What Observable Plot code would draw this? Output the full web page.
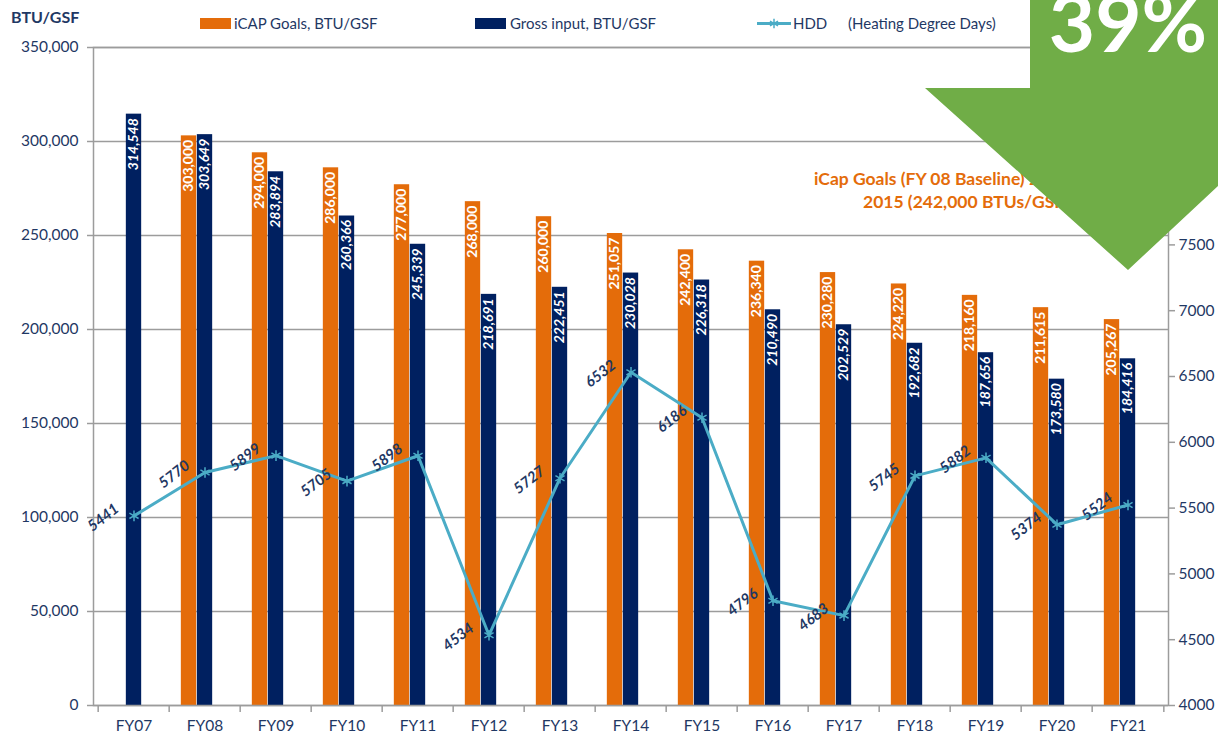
<!DOCTYPE html>
<html>
<head>
<meta charset="utf-8">
<script src="https://cdn.jsdelivr.net/npm/d3@7"></script>
<script src="https://cdn.jsdelivr.net/npm/@observablehq/plot@0.6"></script>
<style>
  html, body { margin: 0; padding: 0; background: #fff; }
  #wrap { position: relative; width: 1218px; height: 737px; overflow: hidden; font-family: Lato, sans-serif; }
  #overlay { position: absolute; left: 0; top: 0; pointer-events: none; }
</style>
</head>
<body>
<div id="wrap"></div>
<script>
// ---- data ----
const fiscalYears = ["FY07","FY08","FY09","FY10","FY11","FY12","FY13","FY14","FY15","FY16","FY17","FY18","FY19","FY20","FY21"];
const icapGoals = [null, 303000, 294000, 286000, 277000, 268000, 260000, 251057, 242400, 236340, 230280, 224220, 218160, 211615, 205267];
const grossInput = [314548, 303649, 283894, 260366, 245339, 218691, 222451, 230028, 226318, 210490, 202529, 192682, 187656, 173580, 184416];
const hdd = [5441, 5770, 5899, 5705, 5898, 4534, 5727, 6532, 6186, 4796, 4683, 5745, 5882, 5374, 5524];
const leftTicks = [0, 50000, 100000, 150000, 200000, 250000, 300000, 350000];
const rightTicks = [4000, 4500, 5000, 5500, 6000, 6500, 7000, 7500];
const legendLabels = ["iCAP Goals, BTU/GSF", "Gross input, BTU/GSF", "HDD", "(Heating Degree Days)"];
const yAxisTitle = "BTU/GSF";
const noteLines = ["iCap Goals (FY 08 Baseline) 20% reduction by", "2015 (242,000 BTUs/GSF)"];
const badgeText = "39%";

// ---- style ----
const ORANGE = "#E46C0A", NAVY = "#002060", TEAL = "#4BACC6", GREEN = "#70AD47", TXT = "#1F3864", GRID = "#9c9c9c";
const W = 1218, H = 737, ML = 93, MR = 50, MT = 47, MB = 32;
const bw = (W - ML - MR) / fiscalYears.length;
const barW = 16;
const inset = (bw - barW) / 2;

const hMin = 4000, hMax = 9000, yMax = 350000;
const toLeft = h => (h - hMin) / (hMax - hMin) * yMax;
const fromLeft = v => hMin + v / yMax * (hMax - hMin);

const goalRows = fiscalYears.map((f, i) => ({fy: f, v: icapGoals[i]})).filter(d => d.v != null);
const grossRows = fiscalYears.map((f, i) => ({fy: f, v: grossInput[i]}));
const hddRows = fiscalYears.map((f, i) => ({fy: f, v: hdd[i]}));
const fmt = d3.format(",");

const chart = Plot.plot({
  width: W, height: H,
  marginLeft: ML, marginRight: MR, marginTop: MT, marginBottom: MB,
  style: {fontFamily: "Lato, sans-serif", fontSize: "15px", color: TXT, background: "transparent", overflow: "visible"},
  x: {domain: fiscalYears, padding: 0},
  y: {domain: [0, yMax]},
  marks: [
    Plot.gridY({ticks: leftTicks, stroke: GRID, strokeOpacity: 1, strokeWidth: 1.5}),
    Plot.barY(goalRows, {x: "fy", y: "v", fill: ORANGE, insetLeft: inset, insetRight: inset, dx: -barW}),
    Plot.barY(grossRows, {x: "fy", y: "v", fill: NAVY, insetLeft: inset, insetRight: inset}),
    Plot.frame({stroke: GRID, strokeWidth: 1.5}),
    Plot.ruleX(fiscalYears, {x: d => d, y1: 0, y2: 0, insetBottom: -7, dx: -bw / 2, stroke: GRID, strokeWidth: 1.5}),
    Plot.ruleX([fiscalYears[fiscalYears.length - 1]], {x: d => d, y1: 0, y2: 0, insetBottom: -7, dx: bw / 2, stroke: GRID, strokeWidth: 1.5}),
    Plot.axisX({tickSize: 0, tickPadding: 14, label: null, fontSize: 15.5}),
    Plot.axisY({ticks: leftTicks, tickFormat: fmt, tickSize: 6, tickPadding: 9, label: null, stroke: GRID, strokeWidth: 1.5, fontSize: 15.5}),
    Plot.axisY({anchor: "right", ticks: rightTicks.map(toLeft), tickFormat: v => String(Math.round(fromLeft(v))), tickSize: 6, tickPadding: 4, label: null, stroke: GRID, strokeWidth: 1.5, fontSize: 15.5}),
    Plot.text(goalRows, {x: "fy", y: "v", text: d => fmt(d.v), rotate: -90, textAnchor: "end", lineAnchor: "middle", dx: -barW, dy: 4, fill: "white", fontWeight: "bold", fontSize: 14}),
    Plot.text(grossRows, {x: "fy", y: "v", text: d => fmt(d.v), rotate: -90, textAnchor: "end", lineAnchor: "middle", dy: 4, fill: "white", fontWeight: "bold", fontStyle: "italic", fontSize: 14}),
    Plot.line(hddRows, {x: "fy", y: d => toLeft(d.v), stroke: TEAL, strokeWidth: 3}),
    Plot.dot(hddRows, {x: "fy", y: d => toLeft(d.v), symbol: "asterisk", stroke: TEAL, strokeWidth: 1.5, r: 5}),
    Plot.text(hddRows, {x: "fy", y: d => toLeft(d.v), text: d => String(d.v), rotate: -38, textAnchor: "end", lineAnchor: "middle", dx: -17, dy: -9, fill: TXT, fontWeight: "bold", fontStyle: "italic", fontSize: 15})
  ]
});
document.getElementById("wrap").appendChild(chart);

// ---- overlay: title, legend, note, badge ----
const ov = d3.select("#wrap").append("svg").attr("id", "overlay").attr("width", W).attr("height", H)
  .style("font-family", "Lato, sans-serif");
ov.append("text").attr("x", 11).attr("y", 23).attr("fill", TXT).attr("font-weight", "bold").attr("font-size", 16).text(yAxisTitle);
const lg = ov.append("g").attr("font-size", 15).attr("fill", TXT);
lg.append("rect").attr("x", 200).attr("y", 18).attr("width", 31).attr("height", 11).attr("fill", ORANGE);
lg.append("text").attr("x", 234).attr("y", 29).text(legendLabels[0]);
lg.append("rect").attr("x", 475).attr("y", 18).attr("width", 31).attr("height", 11).attr("fill", NAVY);
lg.append("text").attr("x", 510).attr("y", 29).text(legendLabels[1]);
lg.append("line").attr("x1", 757).attr("x2", 791).attr("y1", 23.5).attr("y2", 23.5).attr("stroke", TEAL).attr("stroke-width", 3);
lg.append("path").attr("transform", "translate(774,23.5)").attr("d", d3.symbol(d3.symbolAsterisk, 60)()).attr("stroke", TEAL).attr("stroke-width", 1.5).attr("fill", "none");
lg.append("text").attr("x", 793).attr("y", 29).text(legendLabels[2]);
lg.append("text").attr("x", 848).attr("y", 29).text(legendLabels[3]);
const nt = ov.append("g").attr("font-size", 17.5).attr("font-weight", "bold").attr("fill", ORANGE);
nt.append("text").attr("x", 814).attr("y", 185).text(noteLines[0]);
nt.append("text").attr("x", 863).attr("y", 208).text(noteLines[1]);
ov.append("path").attr("d", "M1030,0 L1218,0 L1218,88 L1323,88 L1128,270 L925,88 L1030,88 Z").attr("fill", GREEN);
ov.append("text").attr("x", 1128).attr("y", 52).attr("text-anchor", "middle").attr("fill", "white")
  .attr("font-weight", "bold").attr("font-size", 80).text(badgeText);
</script>
</body>
</html>
